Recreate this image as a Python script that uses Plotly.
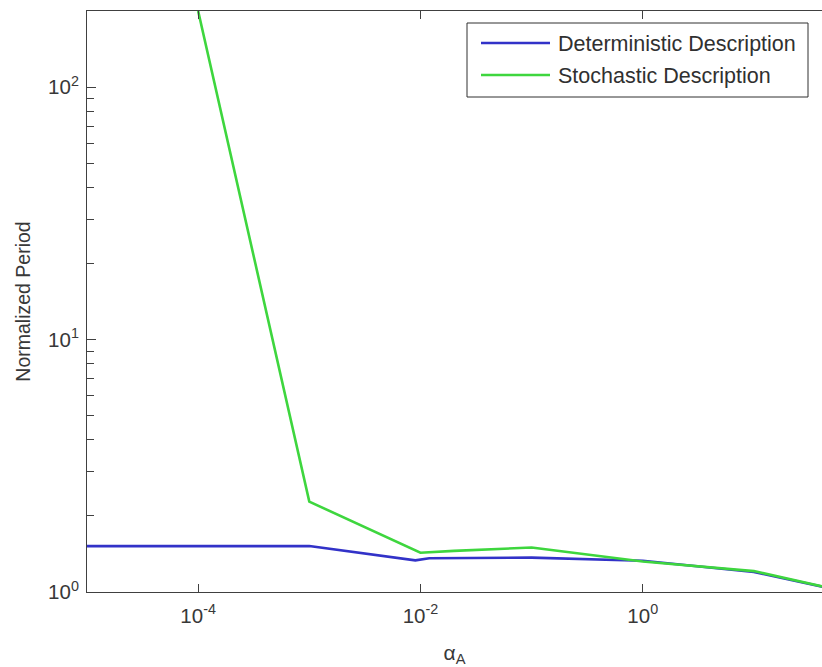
import plotly.graph_objects as go

# coupling strength alpha_A (log spaced) and normalized oscillation period
alpha_det = [1e-5, 1e-4, 1e-3, 9e-3, 1.2e-2, 1e-1, 1.0, 10.0, 100.0]
period_det = [1.52, 1.52, 1.52, 1.335, 1.36, 1.368, 1.33, 1.20, 0.965]

alpha_sto = [1e-4, 1e-3, 1e-2, 2e-2, 1e-1, 1.0, 10.0, 100.0]
period_sto = [200.0, 2.28, 1.43, 1.455, 1.50, 1.32, 1.21, 0.965]

series_names = ["Deterministic Description", "Stochastic Description"]
series_colors = ["#3232c8", "#3ed63e"]

x_tickvals = [1e-4, 1e-2, 1e0]
x_ticktext = ["10<sup>-4</sup>", "10<sup>-2</sup>", "10<sup>0</sup>"]
y_tickvals = [1, 10, 100]
y_ticktext = ["10<sup>0</sup>", "10<sup>1</sup>", "10<sup>2</sup>"]
y_minor = [2, 3, 4, 5, 6, 7, 8, 9, 20, 30, 40, 50, 60, 70, 80, 90]

W, H = 822, 667
L, R, T, B = 87, 0, 11, 75
AX = "#404040"
FONT = "Liberation Sans, Arial, Helvetica, sans-serif"

fig = go.Figure()
fig.add_trace(go.Scatter(x=alpha_det, y=period_det, mode="lines", name=series_names[0],
                         line=dict(color=series_colors[0], width=2.6), showlegend=False))
fig.add_trace(go.Scatter(x=alpha_sto, y=period_sto, mode="lines", name=series_names[1],
                         line=dict(color=series_colors[1], width=2.6), showlegend=False))

# pixel -> paper coordinate helpers for the boxed legend
pw, ph = W - L - R, H - T - B
def px(x):
    return (x - L) / pw
def py(y):
    return 1 - (y - T) / ph

shapes = [dict(type="rect", xref="paper", yref="paper",
               x0=px(467), x1=px(808), y0=py(97), y1=py(23),
               line=dict(color="#303030", width=1), fillcolor="white", layer="above")]
annotations = []
for i, (name, col) in enumerate(zip(series_names, series_colors)):
    yy = 43 + i * 32
    shapes.append(dict(type="line", xref="paper", yref="paper",
                       x0=px(481), x1=px(550), y0=py(yy), y1=py(yy),
                       line=dict(color=col, width=2.6), layer="above"))
    annotations.append(dict(xref="paper", yref="paper", x=px(556), y=py(yy + 1),
                            text=name, showarrow=False, xanchor="left", yanchor="middle",
                            font=dict(family=FONT, size=21.5, color="#303030")))

fig.update_layout(
    width=W, height=H,
    margin=dict(l=L, r=R, t=T, b=B),
    paper_bgcolor="white", plot_bgcolor="white",
    font=dict(family=FONT, color="#383838"),
    shapes=shapes, annotations=annotations,
    xaxis=dict(type="log", range=[-5, 1.613], tickmode="array",
               tickvals=x_tickvals, ticktext=x_ticktext,
               ticks="inside", ticklen=8, tickcolor=AX, tickwidth=1,
               showline=True, linecolor=AX, linewidth=1, mirror="ticks",
               showgrid=False, zeroline=False, ticklabelstandoff=5,
               tickfont=dict(size=20.5, color="#383838"),
               title=dict(text="α<sub>A</sub>", font=dict(size=21, color="#383838"), standoff=20)),
    yaxis=dict(type="log", range=[0, 2.301], tickmode="array",
               tickvals=y_tickvals, ticktext=y_ticktext,
               ticks="inside", ticklen=9, tickcolor=AX, tickwidth=1,
               minor=dict(tickmode="array", tickvals=y_minor, ticks="inside",
                          ticklen=7, tickcolor=AX, showgrid=False),
               showline=True, linecolor=AX, linewidth=1, mirror=False,
               showgrid=False, zeroline=False, ticklabelstandoff=3,
               tickfont=dict(size=20.5, color="#383838"),
               title=dict(text="Normalized Period", font=dict(size=19.5, color="#383838"), standoff=12)),
)

fig.write_html("out.html")
